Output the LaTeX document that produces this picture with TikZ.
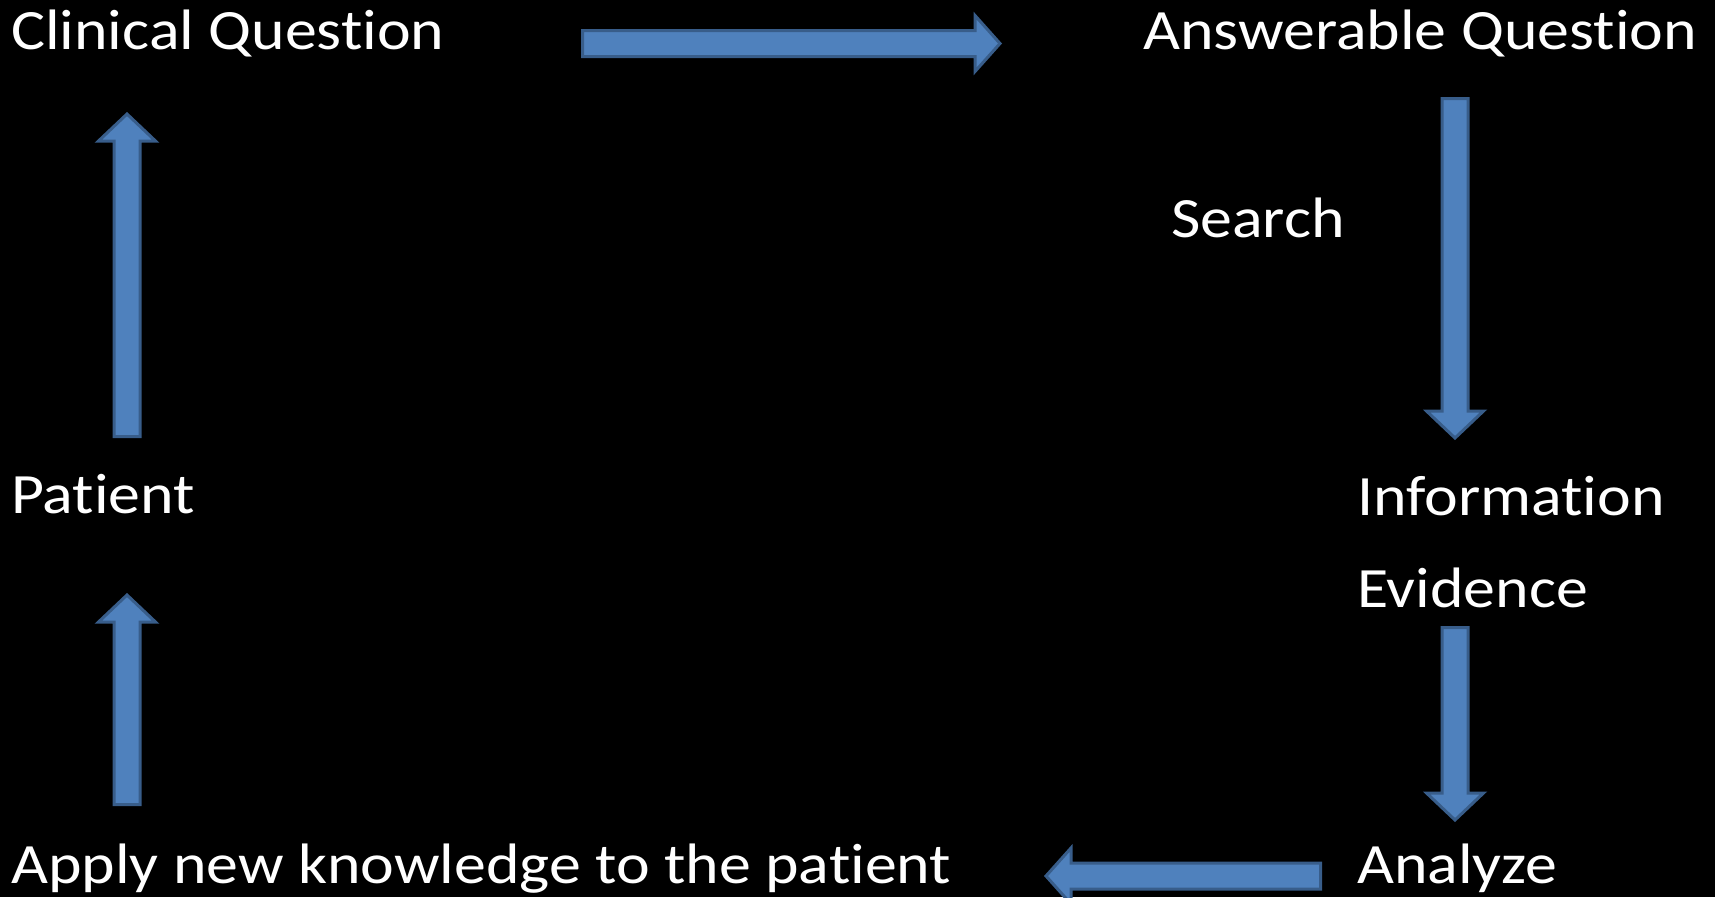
\documentclass[tikz,border=0pt]{standalone}
\usepackage{fontspec}
\setmainfont[FakeStretch=1.12, Ligatures={NoCommon}]{Carlito}
\definecolor{arrowfill}{HTML}{4F81BD}
\definecolor{arrowedge}{HTML}{385D8A}
\tikzset{
  label/.style={anchor=base west, inner sep=0pt, text=white, font=\fontsize{57}{68}\selectfont},
  blockarrow/.style={fill=arrowfill, draw=arrowedge, line width=3pt, line join=miter},
}
% horizontal block arrow: tail coordinate, tip coordinate (same y)
\newcommand\harrow[2]{%
  \path let \p1=(#1), \p2=(#2),
    \n1={sign(\x2-\x1)} in
    [blockarrow] (\x1,\y1+13pt) -- (\x2-\n1*25pt,\y1+13pt) -- (\x2-\n1*25pt,\y1+28pt)
    -- (\x2,\y2) -- (\x2-\n1*25pt,\y1-28pt) -- (\x2-\n1*25pt,\y1-13pt) -- (\x1,\y1-13pt) -- cycle;}
% vertical block arrow: tail coordinate, tip coordinate (same x)
\newcommand\varrow[2]{%
  \path let \p1=(#1), \p2=(#2),
    \n1={sign(\y2-\y1)} in
    [blockarrow] (\x1+13pt,\y1) -- (\x1+13pt,\y2-\n1*27pt) -- (\x1+28.5pt,\y2-\n1*27pt)
    -- (\x2,\y2) -- (\x1-28.5pt,\y2-\n1*27pt) -- (\x1-13pt,\y2-\n1*27pt) -- (\x1-13pt,\y1) -- cycle;}
\usetikzlibrary{calc}
\begin{document}
\begin{tikzpicture}[x=1pt,y=-1pt]
  \fill[black] (0,0) rectangle (1715,897);
  \useasboundingbox (0,0) rectangle (1715,897);

  \node[label] (clin) at (11,49) {Clinical Question};
  \node[label] (answ) at (1143,49) {Answerable Question};
  \node[label] (srch) at (1171,237) {Search};
  \node[label] (pat) at (11,513) {Patient};
  \node[label] (info) at (1357,515) {Information};
  \node[label] (evid) at (1357,607) {Evidence};
  \node[label] (appl) at (11,883) {Apply new knowledge to the patient};
  \node[label] (anal) at (1357,883) {Analyze};

  % arrow ends
  \coordinate (a1t) at (582.5,43.5);  \coordinate (a1h) at (1000,43.5);
  \coordinate (a2t) at (1455,98.5);   \coordinate (a2h) at (1455,438);
  \coordinate (a3t) at (1455,627.5);  \coordinate (a3h) at (1455,820);
  \coordinate (a4t) at (1320.5,876);  \coordinate (a4h) at (1046,876);
  \coordinate (a5t) at (127,804.5);   \coordinate (a5h) at (127,595);
  \coordinate (a6t) at (127,436.5);   \coordinate (a6h) at (127,114);

  \harrow{a1t}{a1h}
  \varrow{a2t}{a2h}
  \varrow{a3t}{a3h}
  \harrow{a4t}{a4h}
  \varrow{a5t}{a5h}
  \varrow{a6t}{a6h}
\end{tikzpicture}
\end{document}
